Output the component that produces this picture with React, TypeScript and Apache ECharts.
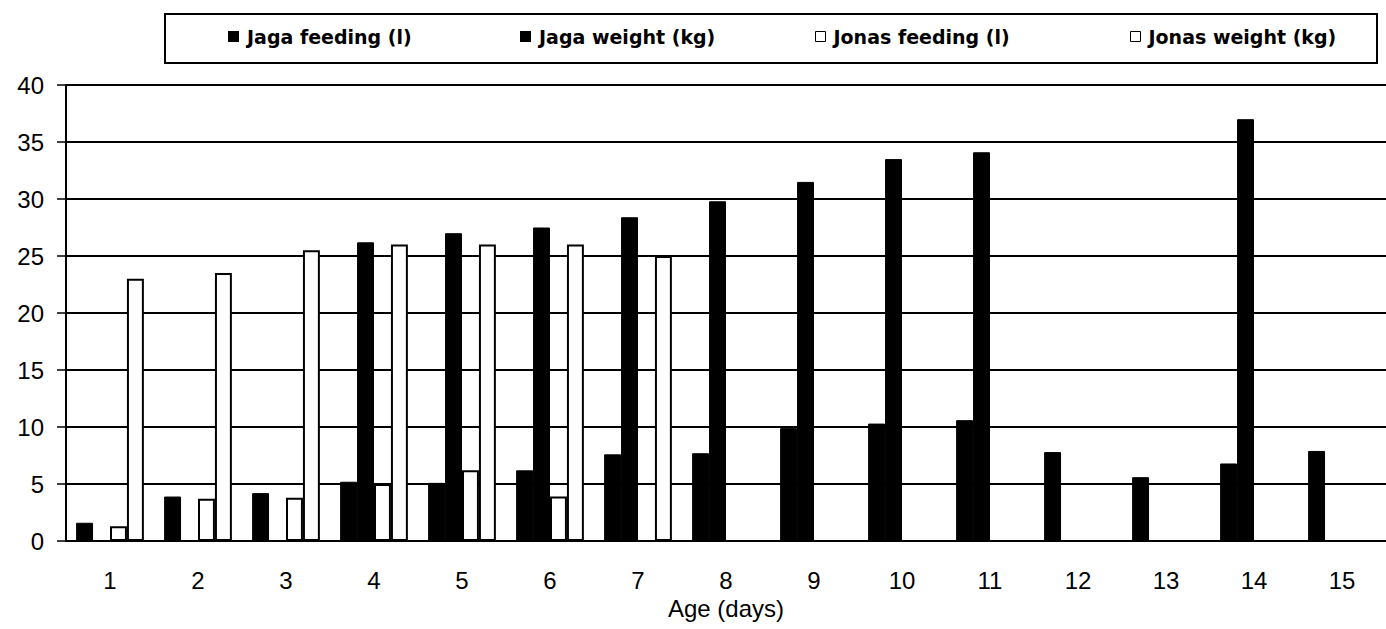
import React, { useEffect, useRef } from "react";
import * as echarts from "echarts";

// Age in days
const days = ["1", "2", "3", "4", "5", "6", "7", "8", "9", "10", "11", "12", "13", "14", "15"];

// Jaga: daily milk feeding (litres) and body weight (kg)
const jagaFeeding = [1.6, 3.9, 4.2, 5.2, 5.1, 6.2, 7.6, 7.7, 9.9, 10.3, 10.6, 7.8, 5.6, 6.8, 7.9];
const jagaWeight = [null, null, null, 26.2, 27.0, 27.5, 28.4, 29.8, 31.5, 33.5, 34.1, null, null, 37.0, null];

// Jonas: daily milk feeding (litres) and body weight (kg)
const jonasFeeding = [1.3, 3.7, 3.8, 5.0, 6.2, 3.9, null, null, null, null, null, null, null, null, null];
const jonasWeight = [23.0, 23.5, 25.5, 26.0, 26.0, 26.0, 25.0, null, null, null, null, null, null, null, null];

const seriesNames = ["Jaga feeding (l)", "Jaga weight (kg)", "Jonas feeding (l)", "Jonas weight (kg)"];
const legendLeft = [228, 520, 815, 1130];

const ARIAL = "'Liberation Sans', Arial, sans-serif";

export default function App() {
  const ref = useRef<HTMLDivElement>(null);

  useEffect(() => {
    document.body.style.margin = "0";
    if (!ref.current) return;
    const chart = echarts.init(ref.current, null, { renderer: "svg" });

    const black = { color: "#000", borderColor: "#000", borderWidth: 1 };
    const white = { color: "#fff", borderColor: "#000", borderWidth: 2 };
    const styles = [black, black, white, white];
    const values = [jagaFeeding, jagaWeight, jonasFeeding, jonasWeight];

    chart.setOption({
      animation: false,
      backgroundColor: "#fff",
      grid: { left: 66, top: 85, width: 1327, height: 456, containLabel: false },
      legend: seriesNames.map((name, i) => ({
        data: [
          {
            name,
            icon: "rect",
            itemStyle:
              i < 2
                ? { color: "#000", borderWidth: 0 }
                : { color: "#fff", borderColor: "#000", borderWidth: 1 },
          },
        ],
        left: legendLeft[i],
        top: 27,
        itemWidth: i < 2 ? 11 : 10,
        itemHeight: i < 2 ? 11 : 10,
        itemGap: 0,
        padding: 0,
        selectedMode: false,
        textStyle: {
          fontFamily: "'DejaVu Sans', sans-serif",
          fontWeight: "bold",
          fontSize: 19,
          color: "#000",
          padding: [0, 0, 0, 3],
        },
      })),
      graphic: [
        {
          type: "rect",
          shape: { x: 165, y: 14, width: 1212, height: 49 },
          style: { fill: "none", stroke: "#000", lineWidth: 2 },
          z: 100,
        },
      ],
      xAxis: {
        type: "category",
        data: days,
        name: "Age (days)",
        nameLocation: "middle",
        nameGap: 52,
        nameTextStyle: { fontFamily: ARIAL, fontSize: 24, color: "#000" },
        axisLine: { lineStyle: { color: "#000", width: 2 } },
        axisTick: { length: 7, lineStyle: { color: "#000", width: 1.5 } },
        axisLabel: { fontFamily: ARIAL, fontSize: 24, color: "#000", margin: 27 },
      },
      yAxis: {
        type: "value",
        min: 0,
        max: 40,
        interval: 5,
        axisLine: { show: true, lineStyle: { color: "#000", width: 2 } },
        axisTick: { show: true, length: 9, lineStyle: { color: "#000", width: 1.5 } },
        axisLabel: { fontFamily: ARIAL, fontSize: 24, color: "#000", margin: 22 },
        splitLine: { lineStyle: { color: "#000", width: 2 } },
      },
      series: seriesNames.map((name, i) => ({
        name,
        type: "bar",
        data: values[i],
        barGap: "0%",
        barCategoryGap: "23%",
        itemStyle: styles[i],
      })),
    });

    return () => chart.dispose();
  }, []);

  return <div ref={ref} style={{ width: 1386, height: 629 }} />;
}
